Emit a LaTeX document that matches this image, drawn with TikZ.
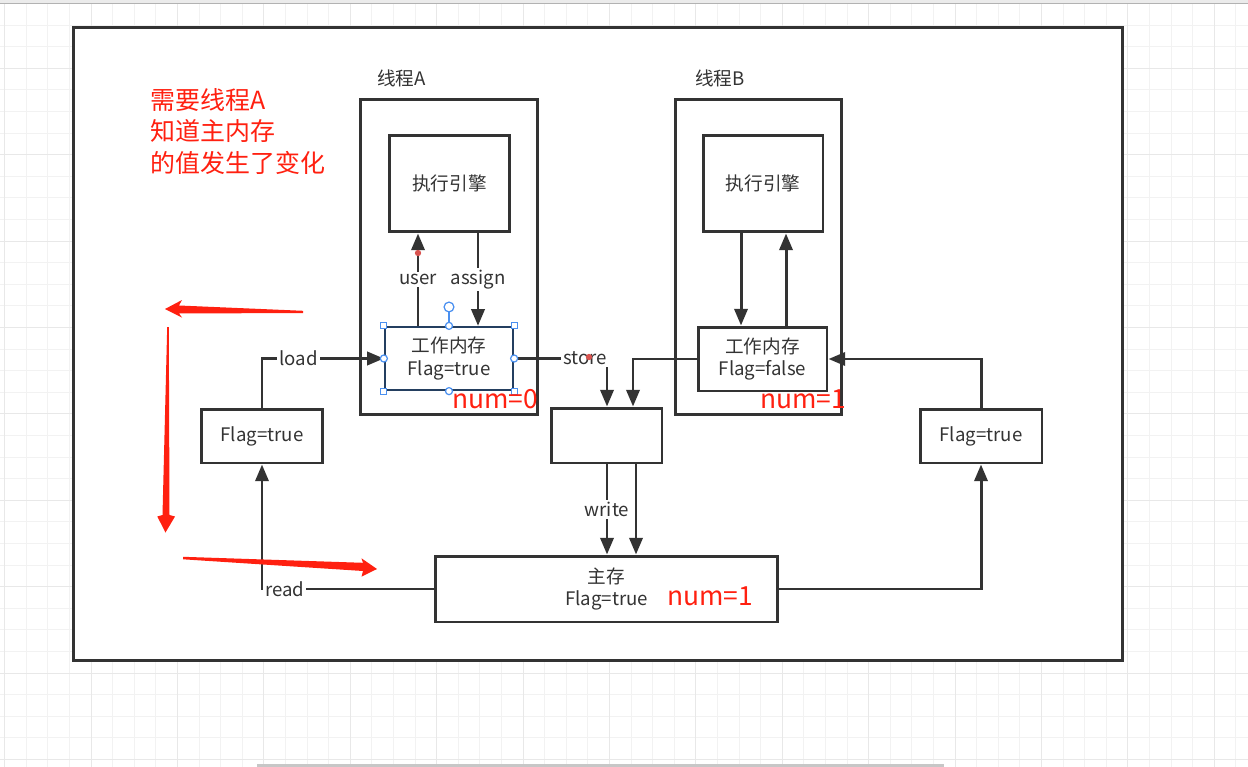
\documentclass[tikz,border=0pt]{standalone}
\usepackage{fontspec}
\setmainfont{Noto Sans CJK SC}
\usetikzlibrary{arrows.meta}
\definecolor{ink}{HTML}{333333}
\definecolor{alert}{HTML}{FF2010}
\definecolor{handle}{HTML}{4A90F0}
\definecolor{selected}{HTML}{243F60}
\definecolor{hover}{HTML}{D9534F}
\tikzset{
    canvas/.style={rectangle, draw=ink, fill=white, line width=1.7pt, inner sep=0pt},
    box/.style={rectangle, draw=ink, fill=white, line width=1.7pt, inner sep=0pt, align=center, text=ink, font=\fontsize{10.6}{13}\selectfont},
    threadname/.style={text=ink, inner sep=0pt, font=\fontsize{10.6}{13}\selectfont},
    tag/.style={fill=white, text=ink, inner sep=1.2pt, font=\fontsize{10.6}{13}\selectfont},
    flow/.style={draw=ink, line width=1.7pt, -{Triangle[length=9.5pt, width=7.5pt]}},
    note/.style={text=alert, inner sep=0pt, align=left, font=\fontsize{14.2}{17.9}\selectfont},
    numval/.style={text=alert, inner sep=0pt, font=\fontsize{15}{18}\selectfont},
    gridline/.style={draw=black!5, line width=0.4pt},
    gridmajor/.style={draw=black!9, line width=0.4pt},
    grip/.style={draw=handle, fill=white, line width=0.7pt}
}

\begin{document}
\begin{tikzpicture}[x=0.02cm, y=-0.02cm]
    \useasboundingbox (0,0) rectangle (1248,767);

    % Canvas grid
    \foreach \i in {0,...,57}
        \draw[gridline] (4.6+21.6*\i,4) -- (4.6+21.6*\i,767);
    \foreach \j in {0,...,35}
        \draw[gridline] (0,3.4+21.6*\j) -- (1248,3.4+21.6*\j);
    \foreach \i in {0,4,...,56}
        \draw[gridmajor] (4.6+21.6*\i,4) -- (4.6+21.6*\i,767);
    \foreach \j in {3,7,...,35}
        \draw[gridmajor] (0,3.4+21.6*\j) -- (1248,3.4+21.6*\j);
    \fill[black!8] (0,0) rectangle (1248,3);
    \draw[black!30, line width=0.6pt] (0,3.5) -- (1248,3.5);
    \fill[black!22] (257,764) rectangle (944,767);

    % Frame and threads
    \node[canvas, minimum width=21cm, minimum height=12.68cm] (frame) at (598,344) {};
    \node[box, minimum width=3.56cm, minimum height=6.32cm] (thrA) at (449,257) {};
    \node[box, minimum width=3.34cm, minimum height=6.32cm] (thrB) at (758.5,257) {};
    \node[threadname, anchor=west] (thrAname) at (377,78) {线程A};
    \node[threadname, anchor=west] (thrBname) at (695,78) {线程B};

    % Engines and working memory
    \node[box, minimum width=2.42cm, minimum height=1.94cm] (engA) at (449.5,183.5) {执行引擎};
    \node[box, minimum width=2.4cm, minimum height=1.94cm] (engB) at (763,183.5) {执行引擎};
    \node[box, draw=selected, line width=1.3pt, minimum width=2.56cm, minimum height=1.26cm] (memA) at (449,358.5) {工作内存\\Flag=true};
    \node[box, minimum width=2.58cm, minimum height=1.28cm] (memB) at (762.5,359) {工作内存\\Flag=false};

    % Copies, buffer and main memory
    \node[box, minimum width=2.44cm, minimum height=1.08cm] (flagL) at (262,436) {Flag=true};
    \node[box, minimum width=2.44cm, minimum height=1.08cm] (flagR) at (981,436) {Flag=true};
    \node[box, minimum width=2.22cm, minimum height=1.1cm] (mid) at (606.5,435.5) {};
    \node[box, minimum width=6.86cm, minimum height=1.32cm] (main) at (606.5,589) {主存\\Flag=true};

    % Links
    \draw[flow] (memA.north -| 418,0) -- node[tag] {user} (engA.south -| 418,0);
    \draw[flow] (engA.south -| 478,0) -- node[tag] {assign} (memA.north -| 478,0);
    \draw[flow] (flagL.north) |- node[tag, pos=0.65] {load} (memA.west);
    \draw[flow] (main.west) -| node[tag, pos=0.434] {read} (flagL.south);
    \draw[flow] (memA.east) -| node[tag, pos=0.383] {store} (mid.north -| 607,0);
    \draw[flow] (memB.west) -| (mid.north -| 633,0);
    \draw[flow] (mid.south -| 607,0) -- node[tag] {write} (main.north -| 607,0);
    \draw[flow] (mid.south -| 636,0) -- (main.north -| 636,0);
    \draw[flow] (engB.south -| 741,0) -- (memB.north -| 741,0);
    \draw[flow] (memB.north -| 786,0) -- (engB.south -| 786,0);
    \draw[flow] (main.east) -| (flagR.south);
    \draw[flow] (flagR.north) |- (memB.east);

    % Selection handles
    \foreach \a in {north west, north east, south west, south east}
        \filldraw[grip] (memA.\a) ++(-3,-3) rectangle ++(6,6);
    \draw[handle, line width=0.7pt] (memA.north) -- ++(0,-15);
    \foreach \a in {north, south, east, west}
        \filldraw[grip] (memA.\a) circle (2pt);
    \filldraw[grip] (449,307) circle (2.8pt);
    \fill[hover] (418,253) circle (1.8pt);
    \fill[hover] (589,357) circle (1.8pt);

    % Red notes
    \node[note, anchor=west] (hint) at (150,131.5) {需要线程A\\知道主内存\\的值发生了变化};
    \node[numval] (numA) at (495,399) {num=0};
    \node[numval] (numB) at (803,399) {num=1};
    \node[numval] (numM) at (710,596) {num=1};

    % Red arrows
    \fill[alert] (303,310.8) -- (179,305.5) -- (182,300) -- (165,309) -- (182,317.5) -- (179,313.5) -- (303,313) -- cycle;
    \fill[alert] (167.2,327) -- (168.8,327) -- (169.5,515) -- (175,516.5) -- (165.5,532.5) -- (157.3,516.5) -- (162.5,515) -- cycle;
    \fill[alert] (183,556.8) -- (363,562.8) -- (361.5,558.3) -- (377,569) -- (361.5,576.7) -- (363,571) -- (183,559.3) -- cycle;
\end{tikzpicture}
\end{document}
